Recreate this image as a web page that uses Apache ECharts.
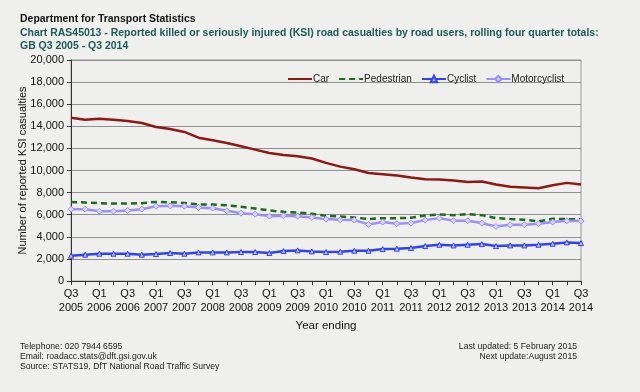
<!DOCTYPE html>
<html>
<head>
<meta charset="utf-8">
<script src="https://cdn.jsdelivr.net/npm/echarts@6/dist/echarts.min.js"></script>
<style>
html,body{margin:0;padding:0;background:#efefee;}
#c{width:640px;height:392px;}
</style>
</head>
<body>
<div id="c"></div>
<script>
var categories = [
  'Q3\n2005','Q4\n2005','Q1\n2006','Q2\n2006','Q3\n2006','Q4\n2006',
  'Q1\n2007','Q2\n2007','Q3\n2007','Q4\n2007','Q1\n2008','Q2\n2008',
  'Q3\n2008','Q4\n2008','Q1\n2009','Q2\n2009','Q3\n2009','Q4\n2009',
  'Q1\n2010','Q2\n2010','Q3\n2010','Q4\n2010','Q1\n2011','Q2\n2011',
  'Q3\n2011','Q4\n2011','Q1\n2012','Q2\n2012','Q3\n2012','Q4\n2012',
  'Q1\n2013','Q2\n2013','Q3\n2013','Q4\n2013','Q1\n2014','Q2\n2014',
  'Q3\n2014'
];
var car = [14780,14600,14690,14600,14480,14300,13940,13760,13490,12970,12730,12490,12190,11890,11590,11410,11290,11080,10690,10350,10110,9780,9660,9540,9360,9210,9180,9090,8970,9000,8730,8520,8460,8400,8670,8880,8730];
var pedestrian = [7160,7100,7040,7010,7010,7040,7160,7130,7070,6920,6920,6860,6710,6560,6380,6260,6200,6080,5900,5840,5750,5600,5690,5690,5720,5930,6020,5960,6050,5960,5690,5600,5540,5390,5630,5600,5570];
var cyclist = [2290,2380,2470,2470,2470,2380,2440,2530,2470,2590,2590,2590,2620,2620,2530,2710,2770,2680,2620,2650,2740,2740,2890,2920,2980,3160,3280,3220,3280,3340,3160,3220,3220,3280,3370,3490,3430];
var motorcyclist = [6500,6500,6320,6320,6380,6500,6770,6800,6770,6650,6590,6350,6140,6050,5870,5900,5870,5750,5600,5540,5510,5120,5330,5180,5240,5510,5690,5450,5450,5240,4940,5090,5090,5180,5330,5450,5420];
var yTicks = [0,2000,4000,6000,8000,10000,12000,14000,16000,18000,20000];

var FONT = '"Liberation Sans", Arial, sans-serif';

function txt(x, y, s, font, color, align, sx) {
  return {type:'text', x:x, y:y, scaleX:sx || 1, silent:true,
    style:{text:s, font:font, fill:color, align:align || 'left', verticalAlign:'middle'}};
}

var chart = echarts.init(document.getElementById('c'), null, {renderer:'canvas'});
chart.setOption({
  backgroundColor: '#efefee',
  animation: false,
  graphic: [
    txt(20, 19, 'Department for Transport Statistics', 'bold 11.5px ' + FONT, '#111', 'left', 0.91),
    txt(20, 33, 'Chart RAS45013 - Reported killed or seriously injured (KSI) road casualties by road users, rolling four quarter totals:', 'bold 11.5px ' + FONT, '#1d5a5a', 'left', 0.91),
    txt(20, 46, 'GB Q3 2005 - Q3 2014', 'bold 11.5px ' + FONT, '#1d5a5a', 'left', 0.91),
    txt(20, 347, 'Telephone: 020 7944 6595', '9px ' + FONT, '#222', 'left', 0.96),
    txt(20, 357, 'Email: roadacc.stats@dft.gsi.gov.uk', '9px ' + FONT, '#222', 'left', 0.96),
    txt(20, 367, 'Source: STATS19, DfT National Road Traffic Survey', '9px ' + FONT, '#222', 'left', 0.96),
    txt(577, 347, 'Last updated: 5 February 2015', '9px ' + FONT, '#222', 'right', 0.96),
    txt(577, 357, 'Next update:August 2015', '9px ' + FONT, '#222', 'right', 0.96)
  ],
  legend: {
    left: 282, top: 69,
    itemWidth: 24, itemHeight: 8, itemGap: 9,
    textStyle:{fontFamily:FONT, fontSize:10, color:'#222', padding:[0,0,0,-4]},
    data:[
      {name:'Car', itemStyle:{opacity:0}},
      {name:'Pedestrian', itemStyle:{opacity:0}},
      'Cyclist',
      'Motorcyclist'
    ]
  },
  grid: {left:71, right:59, top:60, bottom:111, show:true, borderColor:'#9a9a9a', borderWidth:1, backgroundColor:'transparent'},
  xAxis: {
    type:'category', data:categories, boundaryGap:false,
    name:'Year ending', nameLocation:'middle', nameGap:36,
    nameTextStyle:{fontFamily:FONT, fontSize:11.5, color:'#111'},
    axisLine:{lineStyle:{color:'#333', width:1}},
    axisTick:{show:true, interval:0, length:4, lineStyle:{color:'#333'}},
    axisLabel:{interval:1, fontFamily:FONT, fontSize:11, color:'#111', lineHeight:14, margin:6},
    splitLine:{show:false}
  },
  yAxis: {
    type:'value', min:yTicks[0], max:yTicks[yTicks.length-1], interval:2000,
    name:'Number of reported KSI casualties', nameLocation:'middle', nameGap:43,
    nameMoveOverlap:false,
    nameTextStyle:{fontFamily:FONT, fontSize:11, color:'#111'},
    axisLine:{show:true, lineStyle:{color:'#333', width:1}},
    axisTick:{show:true, length:4, lineStyle:{color:'#333'}},
    axisLabel:{fontFamily:FONT, fontSize:11, color:'#111', margin:7,
      formatter:function(v){return v.toLocaleString('en-US');}},
    splitLine:{show:true, lineStyle:{color:'#8f8f8f', width:1}}
  },
  series: [
    {name:'Car', type:'line', data:car, symbol:'none', smooth:false,
     lineStyle:{color:'#8b1a16', width:2.5}, itemStyle:{color:'#8b1a16'}},
    {name:'Pedestrian', type:'line', data:pedestrian, symbol:'none',
     lineStyle:{color:'#1f6a1f', width:2.5, type:[6,4]}, itemStyle:{color:'#1f6a1f'}},
    {name:'Motorcyclist', type:'line', data:motorcyclist, symbol:'diamond', symbolSize:6,
     lineStyle:{color:'#9c90f2', width:2.5}, itemStyle:{color:'#d8d4fa', borderColor:'#9c90f2', borderWidth:1}},
    {name:'Cyclist', type:'line', data:cyclist, symbol:'triangle', symbolSize:5,
     lineStyle:{color:'#3344e6', width:2.5}, itemStyle:{color:'#b8bff8', borderColor:'#3344e6', borderWidth:1}}
  ]
});
</script>
</body>
</html>
